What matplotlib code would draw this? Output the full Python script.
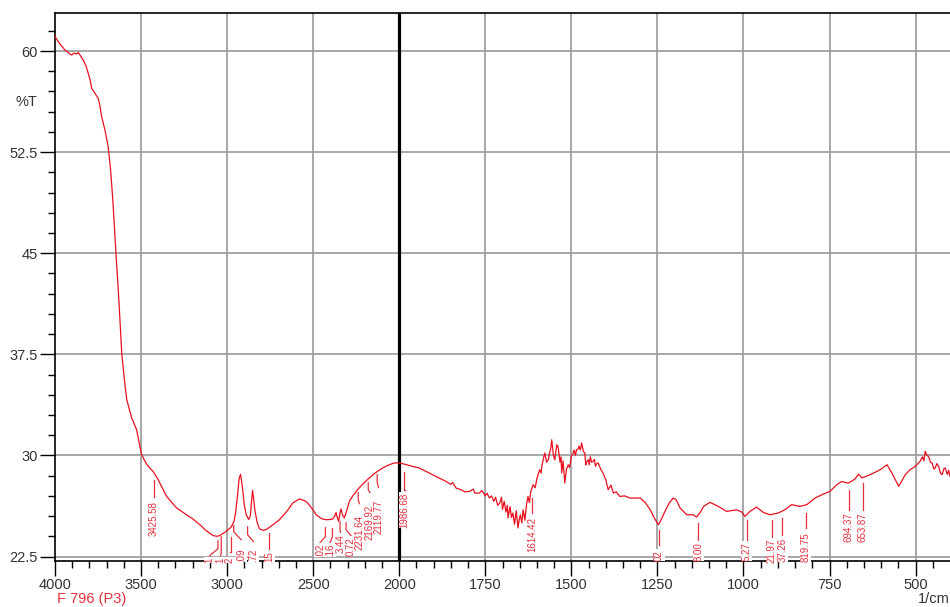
import numpy as np
import matplotlib
matplotlib.use("Agg")
import matplotlib.pyplot as plt
from matplotlib.ticker import FixedLocator, FixedFormatter

plt.rcParams['font.family'] = ['Liberation Sans', 'DejaVu Sans']

# spectrum (wavenumber 1/cm, %T)
wavenumber = [4000, 3994, 3970, 3942, 3920, 3903, 3890, 3874, 3865, 3855, 3836, 3820, 3807, 3795,
              3787, 3770, 3760, 3749, 3740, 3729, 3710, 3691, 3677, 3664, 3646, 3629, 3612, 3595,
              3583, 3555, 3526, 3497, 3470, 3445, 3430, 3401, 3352, 3294, 3237, 3200, 3159, 3120,
              3082, 3060, 3043, 3020, 3005, 2976, 2960, 2950, 2940, 2930, 2922, 2915, 2908, 2900,
              2889, 2875, 2865, 2858, 2852, 2846, 2839, 2825, 2812, 2790, 2773, 2740, 2696, 2650,
              2619, 2580, 2550, 2532, 2500, 2483, 2450, 2425, 2400, 2387, 2375, 2367, 2360, 2352,
              2345, 2338, 2330, 2319, 2305, 2290, 2270, 2242, 2210, 2174, 2140, 2097, 2060, 2029,
              2010, 1990, 1961, 1942, 1913, 1890, 1864, 1850, 1845, 1835, 1820, 1810, 1796, 1785,
              1780, 1767, 1760, 1750, 1745, 1738, 1732, 1725, 1720, 1714, 1708, 1703, 1700, 1695,
              1690, 1686, 1684, 1678, 1674, 1670, 1665, 1660, 1655, 1651, 1648, 1644, 1640, 1635,
              1630, 1626, 1622, 1618, 1611, 1605, 1600, 1592, 1588, 1585, 1580, 1577, 1572, 1567,
              1563, 1560, 1557, 1552, 1548, 1545, 1542, 1538, 1533, 1530, 1528, 1524, 1521, 1519,
              1514, 1509, 1505, 1500, 1496, 1492, 1488, 1485, 1480, 1478, 1474, 1470, 1465, 1461,
              1458, 1456, 1451, 1448, 1445, 1441, 1437, 1433, 1430, 1426, 1422, 1415, 1408, 1400,
              1393, 1385, 1378, 1370, 1359, 1345, 1330, 1300, 1285, 1271, 1260, 1247, 1240, 1228,
              1215, 1204, 1195, 1184, 1165, 1146, 1136, 1125, 1116, 1097, 1073, 1049, 1020, 1005,
              996, 981, 962, 942, 923, 899, 880, 860, 836, 816, 792, 768, 749, 729,
              715, 695, 676, 666, 656, 632, 603, 583, 569, 549, 530, 516, 501, 487,
              480, 476, 472, 467, 462, 457, 452, 447, 443, 438, 433, 428, 423, 418,
              414, 408, 404, 400]
transmittance = [61.10, 60.94, 60.50, 60.07, 59.85, 59.70, 59.85, 59.78, 59.90, 59.70, 59.33, 58.90, 58.35, 57.80,
                 57.23, 56.90, 56.70, 56.49, 56.00, 55.13, 54.14, 52.91, 51.18, 48.95, 45.03, 41.54, 37.54, 35.40,
                 34.13, 32.80, 31.91, 30.06, 29.40, 29.00, 28.82, 28.21, 26.97, 26.11, 25.61, 25.30, 24.87, 24.40,
                 24.06, 24.00, 24.06, 24.25, 24.37, 24.69, 25.10, 25.80, 27.00, 28.30, 28.60, 28.00, 27.30, 26.30,
                 25.60, 25.25, 25.50, 26.60, 27.40, 26.80, 25.97, 25.00, 24.55, 24.45, 24.50, 24.80, 25.23, 25.90,
                 26.47, 26.77, 26.65, 26.47, 25.95, 25.60, 25.30, 25.23, 25.25, 25.28, 25.50, 25.77, 25.40, 25.11,
                 25.70, 26.03, 25.60, 25.36, 25.90, 26.59, 27.00, 27.46, 27.90, 28.33, 28.70, 29.07, 29.30, 29.44,
                 29.45, 29.39, 29.19, 29.07, 28.70, 28.40, 28.07, 27.85, 28.00, 27.58, 27.45, 27.30, 27.33, 27.50,
                 27.20, 27.21, 27.40, 27.00, 27.20, 26.84, 27.00, 26.60, 26.90, 26.30, 26.47, 26.90, 26.00, 26.60,
                 25.80, 26.30, 25.36, 26.20, 25.40, 25.73, 24.90, 25.90, 24.62, 25.30, 25.60, 25.00, 25.97, 25.20,
                 26.40, 26.96, 26.50, 27.30, 27.83, 27.60, 28.30, 28.94, 28.70, 29.30, 29.90, 30.18, 29.50, 29.68,
                 30.20, 30.50, 31.16, 30.00, 29.68, 30.30, 30.80, 30.55, 29.50, 29.90, 28.70, 29.60, 28.60, 27.96,
                 29.00, 29.31, 29.10, 29.93, 30.10, 30.40, 30.00, 30.42, 30.50, 30.70, 30.40, 30.92, 30.30, 30.18,
                 29.30, 29.50, 29.68, 29.30, 29.90, 29.50, 29.56, 29.70, 29.20, 29.40, 29.44, 29.00, 28.70, 28.20,
                 27.46, 27.80, 27.21, 27.30, 26.96, 27.00, 26.84, 26.84, 26.50, 25.97, 25.40, 24.86, 25.20, 25.85,
                 26.50, 26.84, 26.70, 26.10, 25.60, 25.60, 25.43, 25.80, 26.22, 26.52, 26.22, 25.85, 25.97, 25.80,
                 25.48, 25.85, 26.17, 25.77, 25.60, 25.73, 25.97, 26.35, 26.22, 26.35, 26.84, 27.14, 27.33, 27.83,
                 28.07, 27.95, 28.25, 28.62, 28.33, 28.57, 28.94, 29.31, 28.70, 27.71, 28.57, 28.94, 29.19, 29.56,
                 29.90, 29.60, 30.30, 30.00, 29.93, 29.50, 29.44, 29.00, 29.07, 29.40, 29.19, 28.70, 28.57, 29.00,
                 29.07, 28.60, 28.90, 28.45]

# peak labels (visible part of text), leader line x, text x, leader y's and text bottom
peak_text = ["3425.58", "1", "1", "2", ".09", ".72", "15", ".02", ".16", "3.44", "0.72",
             "2231.64", "2169.92", "2119.77", "1986.68", "1614.42", "02", "8.00", "5.27",
             "21.97", "37.26", "819.75", "694.37", "653.87"]
peak_line_x = [3425.58, 3053, 3034, 2980, 2962, 2881, 2759, 2429, 2388, 2344, 2309,
               2238, 2180, 2128, 1986.68, 1614.42, 1245, 1131, 991, 918, 887, 819.75, 694.37, 653.87]
peak_text_x = [3425.58, 3101, 3038, 2983, 2918, 2846, 2754, 2460, 2402, 2338, 2280,
               2231.64, 2169.92, 2119.77, 1984, 1614.42, 1245, 1131, 991, 918, 887, 819.75, 694.37, 653.87]
peak_y_top = [28.20, 23.68, 23.97, 23.97, 24.79, 24.71, 24.27, 24.64, 24.57, 25.08, 25.01,
              27.24, 27.98, 28.57, 28.79, 26.86, 24.49, 25.01, 25.23, 25.23, 25.38, 25.75, 27.46, 27.98]
peak_y_mid = [26.94, 23.08, 22.79, 22.86, 24.34, 24.12, 23.01, 23.97, 23.97, 24.49, 24.49,
              26.72, 27.46, 27.98, 27.46, 25.75, 23.38, 23.75, 23.75, 23.75, 24.12, 24.64, 25.83, 25.97]
peak_y_end = [26.94, 22.57, 22.57, 22.86, 23.75, 23.60, 23.01, 23.53, 23.53, 24.12, 24.05,
              26.42, 27.24, 27.61, 27.46, 25.75, 23.38, 23.75, 23.75, 23.75, 24.12, 24.64, 25.83, 25.97]
peak_text_y = [24.05, 22.04, 22.04, 22.04, 22.12, 22.12, 22.12, 22.49, 22.49, 22.79, 22.57,
               23.01, 23.75, 24.20, 24.64, 22.86, 22.19, 22.19, 22.19, 22.04, 22.12, 22.12, 23.60, 23.60]

x_major = [4000, 3500, 3000, 2500, 2000, 1750, 1500, 1250, 1000, 750, 500]
y_major = [22.5, 30, 37.5, 45, 52.5, 60]
y_labels = ["22.5", "30", "37.5", "45", "52.5", "60"]


# the instrument draws 4000-2000 at half the scale of 2000-400
def fwd(x):
    x = np.asarray(x, dtype=float)
    return np.where(x >= 2000, x, 2 * x - 2000)


def inv(u):
    u = np.asarray(u, dtype=float)
    return np.where(u >= 2000, u, (u + 2000) / 2)


red = '#e8101e'
lab_red = '#e2303c'
grid_c = '#a0a0a0'

fig = plt.figure(figsize=(9.5, 6.07), dpi=100)
ax = fig.add_axes([55 / 950, 1 - 561 / 607, 895 / 950, (561 - 13) / 607])
ax.set_xscale('function', functions=(fwd, inv))
ax.set_xlim(4000, 400)
ax.set_ylim(22.17, 62.82)

ax.plot(wavenumber, transmittance, color=red, lw=0.9, zorder=3)

for xv in x_major[1:]:
    if xv == 2000:
        ax.axvline(xv, color='black', lw=2.3, zorder=2)
    else:
        ax.axvline(xv, color=grid_c, lw=1.3, zorder=1)
for yv in y_major:
    ax.axhline(yv, color=grid_c, lw=1.3, zorder=1)

for i in range(len(peak_text)):
    ax.plot([peak_line_x[i], peak_line_x[i], peak_text_x[i]],
            [peak_y_top[i], peak_y_mid[i], peak_y_end[i]],
            color=lab_red, lw=0.9, zorder=4, clip_on=False)
    ax.text(peak_text_x[i], peak_text_y[i], peak_text[i], rotation=90, ha='center', va='bottom',
            fontsize=7, color=lab_red, zorder=6, clip_on=False,
            bbox=dict(facecolor='white', edgecolor='none', pad=0.4))

x_minor = [v for v in range(3900, 2000, -100) if v not in x_major] + \
          [v for v in range(1950, 400, -50) if v not in x_major]
ax.xaxis.set_major_locator(FixedLocator(x_major))
ax.xaxis.set_major_formatter(FixedFormatter([str(v) for v in x_major]))
ax.xaxis.set_minor_locator(FixedLocator(x_minor))
ax.yaxis.set_major_locator(FixedLocator(y_major))
ax.yaxis.set_major_formatter(FixedFormatter(y_labels))
ax.yaxis.set_minor_locator(FixedLocator([22.5 + 1.5 * k for k in range(28)]))

ax.tick_params(which='major', direction='out', length=11, width=1.0, color='black',
               labelsize=10.5, labelcolor='#333333', pad=1.5)
ax.tick_params(which='minor', direction='out', length=5, width=1.0, color='black')

for s in ['top', 'left', 'bottom']:
    ax.spines[s].set_linewidth(1.2)
    ax.spines[s].set_color('black')
ax.spines['right'].set_visible(False)

fig.text(26 / 950, 1 - 102 / 607, "%T", ha='center', va='center', fontsize=10.5, color='#333333')
fig.text(918 / 950, 1 - 599 / 607, "1/cm", ha='left', va='center', fontsize=10.5, color='#333333')
fig.text(57 / 950, 1 - 599 / 607, "F 796 (P3)", ha='left', va='center', fontsize=10.5, color=lab_red)

fig.savefig("out.png", dpi=100)
